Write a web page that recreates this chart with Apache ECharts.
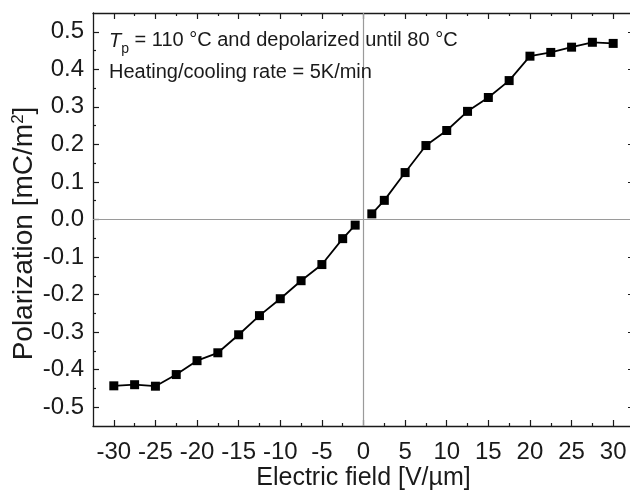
<!DOCTYPE html>
<html>
<head>
<meta charset="utf-8">
<script src="https://cdn.jsdelivr.net/npm/echarts@6/dist/echarts.min.js"></script>
<style>
  html, body { margin: 0; padding: 0; background: #fff; }
  #chart { width: 630px; height: 490px; }
</style>
</head>
<body>
<div id="chart"></div>
<script>
// Polarization vs electric field, negative and positive branches
const fieldNeg = [-30, -27.5, -25, -22.5, -20, -17.5, -15, -12.5, -10, -7.5, -5, -2.5, -1];
const polNeg   = [-0.443, -0.440, -0.444, -0.413, -0.376, -0.355, -0.307, -0.256, -0.211, -0.163, -0.120, -0.051, -0.015];
const fieldPos = [1, 2.5, 5, 7.5, 10, 12.5, 15, 17.5, 20, 22.5, 25, 27.5, 30];
const polPos   = [0.015, 0.051, 0.125, 0.197, 0.237, 0.288, 0.325, 0.370, 0.435, 0.445, 0.459, 0.472, 0.469];

// Tick positions
const xMajor = [-30, -25, -20, -15, -10, -5, 0, 5, 10, 15, 20, 25, 30];
const xMinor = [-27.5, -22.5, -17.5, -12.5, -7.5, -2.5, 2.5, 7.5, 12.5, 17.5, 22.5, 27.5];
const yMajor = [-0.5, -0.4, -0.3, -0.2, -0.1, 0, 0.1, 0.2, 0.3, 0.4, 0.5];
const yMinor = [-0.45, -0.35, -0.25, -0.15, -0.05, 0.05, 0.15, 0.25, 0.35, 0.45];

const FONT = 'Liberation Sans';
const INK = '#1a1a1a';
const X_MIN = -32.5, X_MAX = 32.5, Y_MIN = -0.55, Y_MAX = 0.55;

function pairs(xs, ys) { return xs.map((x, i) => [x, ys[i]]); }

function xAxisDef(position, ticks, len, withLabels, withLine) {
  return {
    type: 'value', position: position, min: X_MIN, max: X_MAX,
    axisLine: { show: withLine, onZero: false, lineStyle: { color: INK, width: 1.3 } },
    axisTick: { show: true, inside: true, length: len, customValues: ticks, lineStyle: { color: INK, width: 1.2 } },
    axisLabel: withLabels ? {
      show: true, customValues: xMajor, margin: 14,
      fontFamily: FONT, fontSize: 24, color: INK
    } : { show: false },
    splitLine: { show: false }
  };
}
function yAxisDef(position, ticks, len, withLabels, withLine) {
  return {
    type: 'value', position: position, min: Y_MIN, max: Y_MAX,
    axisLine: { show: withLine, onZero: false, lineStyle: { color: INK, width: 1.3 } },
    axisTick: { show: true, inside: true, length: len, customValues: ticks, lineStyle: { color: INK, width: 1.2 } },
    axisLabel: withLabels ? {
      show: true, customValues: yMajor, margin: 9,
      fontFamily: FONT, fontSize: 24, color: INK,
      formatter: v => v.toFixed(1)
    } : { show: false },
    splitLine: { show: false }
  };
}

const xBottom = xAxisDef('bottom', xMajor, 6, true, true);
xBottom.name = 'Electric field [V/\u00b5m]';
xBottom.nameLocation = 'middle';
xBottom.nameGap = 40;
xBottom.nameMoveOverlap = false;
xBottom.nameTextStyle = { fontFamily: FONT, fontSize: 25, color: INK };

const yLeft = yAxisDef('left', yMajor, 6, true, true);
yLeft.name = 'Polarization [mC/m{sup|2}]';
yLeft.nameLocation = 'middle';
yLeft.nameGap = 55;
yLeft.nameMoveOverlap = false;
yLeft.nameTextStyle = {
  fontFamily: FONT, fontSize: 28, color: INK,
  padding: [0, 28, 0, 0],
  rich: { sup: { fontFamily: FONT, fontSize: 17, color: INK, verticalAlign: 'top', lineHeight: 17 } }
};

const lineSeries = (xs, ys) => ({
  type: 'line',
  data: pairs(xs, ys),
  symbol: 'rect',
  symbolSize: 9,
  lineStyle: { color: '#000', width: 1.8 },
  itemStyle: { color: '#000' },
  z: 5
});

const chart = echarts.init(document.getElementById('chart'), null, { renderer: 'canvas' });
chart.setOption({
  animation: false,
  backgroundColor: '#fff',
  grid: { left: 93, top: 13, width: 541, height: 413, containLabel: false, outerBoundsMode: 'none' },
  xAxis: [
    xBottom,
    xAxisDef('top', xMajor, 6, false, true),
    xAxisDef('bottom', xMinor, 3, false, false),
    xAxisDef('top', xMinor, 3, false, false)
  ],
  yAxis: [
    yLeft,
    yAxisDef('right', yMajor, 6, false, true),
    yAxisDef('left', yMinor, 3, false, false),
    yAxisDef('right', yMinor, 3, false, false)
  ],
  series: [
    Object.assign(lineSeries(fieldNeg, polNeg), {
      markLine: {
        silent: true, symbol: 'none', label: { show: false },
        lineStyle: { color: '#9a9a9a', width: 1.2, type: 'solid' },
        data: [{ xAxis: 0 }, { yAxis: 0 }]
      }
    }),
    lineSeries(fieldPos, polPos)
  ],
  graphic: [
    {
      type: 'text', left: 109, top: 30, z: 10,
      style: {
        text: '{it|T}{sub|p} = 110 \u00b0C and depolarized until 80 \u00b0C',
        fill: INK,
        rich: {
          it: { fontFamily: FONT, fontSize: 20, fontStyle: 'italic', fill: INK, verticalAlign: 'bottom', lineHeight: 23 },
          sub: { fontFamily: FONT, fontSize: 14, fill: INK, verticalAlign: 'bottom', lineHeight: 14, padding: [0, 0, -5, 0] }
        },
        font: '20px "Liberation Sans"'
      }
    },
    {
      type: 'text', left: 109, top: 62, z: 10,
      style: {
        text: 'Heating/cooling rate = 5K/min',
        fill: INK,
        font: '20px "Liberation Sans"'
      }
    }
  ]
});
</script>
</body>
</html>
